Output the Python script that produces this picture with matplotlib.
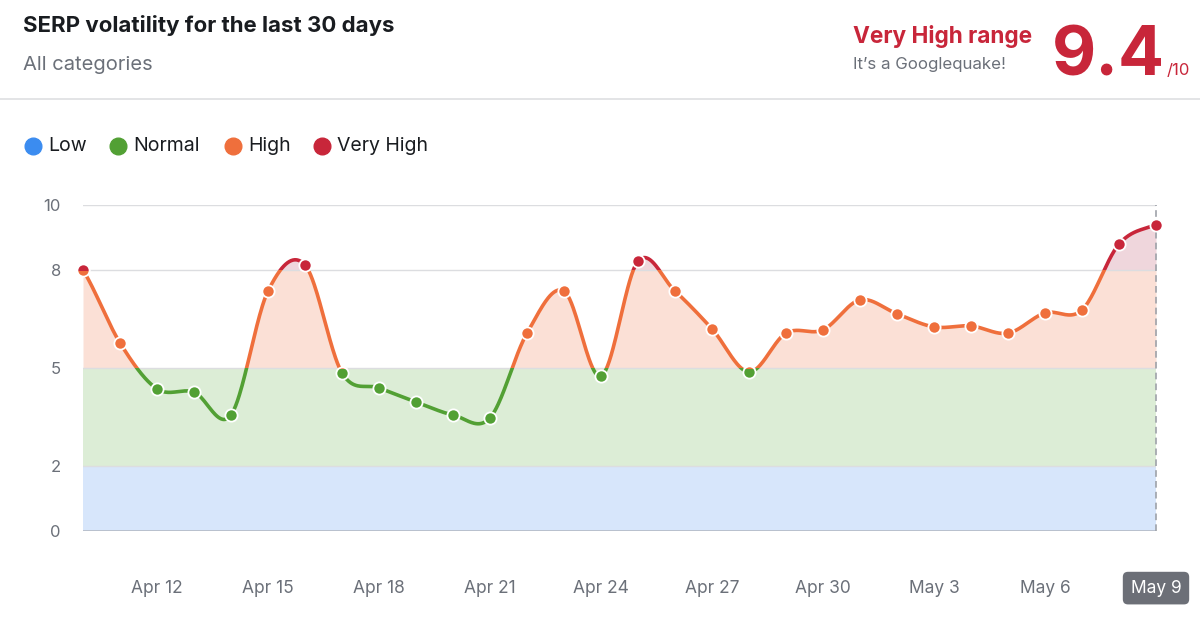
import numpy as np
import matplotlib
matplotlib.use("Agg")
import matplotlib.pyplot as plt
from matplotlib.patches import Rectangle

plt.rcParams['font.family'] = ['Inter', 'DejaVu Sans']

# ---- data ----
day_labels = ["Apr 10", "Apr 11", "Apr 12", "Apr 13", "Apr 14", "Apr 15", "Apr 16", "Apr 17",
              "Apr 18", "Apr 19", "Apr 20", "Apr 21", "Apr 22", "Apr 23", "Apr 24", "Apr 25",
              "Apr 26", "Apr 27", "Apr 28", "Apr 29", "Apr 30", "May 1", "May 2", "May 3",
              "May 4", "May 5", "May 6", "May 7", "May 8", "May 9"]
volatility = [8.0, 5.77, 4.36, 4.26, 3.56, 7.36, 8.16, 4.85, 4.39, 3.96, 3.56, 3.47, 6.07, 7.36,
              4.75, 8.28, 7.36, 6.2, 4.88, 6.07, 6.17, 7.09, 6.66, 6.26, 6.29, 6.07, 6.69, 6.78,
              8.8, 9.4]
tick_labels = ["Apr 12", "Apr 15", "Apr 18", "Apr 21", "Apr 24", "Apr 27", "Apr 30",
               "May 3", "May 6", "May 9"]
y_ticks = [0, 2, 5, 8, 10]
zone_names = ["Low", "Normal", "High", "Very High"]
zone_bounds = [0, 2, 5, 8, 10]

c_blue, c_green, c_orange, c_red = "#3b8cf0", "#52a034", "#ef6f3c", "#c8263a"
f_blue, f_green, f_orange, f_red = "#d7e6fb", "#dcedd6", "#fbe0d6", "#efd6dc"
zone_colors = [c_blue, c_green, c_orange, c_red]
txt_dark = "#191c20"
txt_gray = "#6b7079"

# ---- spline (Catmull-Rom) ----
x = np.arange(len(volatility), dtype=float)
y = np.array(volatility, dtype=float)
n = len(y)
m = np.zeros(n)
m[1:-1] = (y[2:] - y[:-2]) / 2.0
m[0] = (y[1] - y[0]) * 0.8
m[-1] = (y[-1] - y[-2]) * 0.8
xs, ys = [], []
for i in range(n - 1):
    t = np.linspace(0, 1, 40, endpoint=(i == n - 2))
    h00 = 2 * t**3 - 3 * t**2 + 1
    h10 = t**3 - 2 * t**2 + t
    h01 = -2 * t**3 + 3 * t**2
    h11 = t**3 - t**2
    xs.append(x[i] + t)
    ys.append(h00 * y[i] + h10 * m[i] + h01 * y[i + 1] + h11 * m[i + 1])
xd = np.concatenate(xs)
yd = np.concatenate(ys)

W, H = 1200, 624
fig = plt.figure(figsize=(W / 100, H / 100), dpi=100)
fig.patch.set_facecolor("white")

ax = fig.add_axes([83 / W, 1 - 531 / H, (1156 - 83) / W, (531 - 205) / H])
ax.set_xlim(0, n - 1)
ax.set_ylim(0, 10)
for s in ax.spines.values():
    s.set_visible(False)

# bands
ax.axhspan(zone_bounds[0], zone_bounds[1], color=f_blue, lw=0, zorder=0)
ax.axhspan(zone_bounds[1], zone_bounds[2], color=f_green, lw=0, zorder=0)
ax.fill_between(xd, 5, np.clip(yd, 5, 8), color=f_orange, lw=0, zorder=0)
ax.fill_between(xd, 8, np.clip(yd, 8, None), color=f_red, lw=0, zorder=0)

# grid
for v in [2, 5, 8, 10]:
    ax.axhline(v, color="#dcdde0", lw=1.0, zorder=1)
ax.axhline(0, color="#b4bac6", lw=1.2, zorder=1)
ax.axvline(n - 1, color="#9ea2a9", lw=1.2, ls=(0, (4, 2.5)), zorder=2, clip_on=False)

# zone-colored line + markers via clipping
for lo, hi, col in [(-1, 2, c_blue), (2, 5, c_green), (5, 8, c_orange), (8, 12, c_red)]:
    rect = Rectangle((-2, lo), n + 4, hi - lo, transform=ax.transData, fill=False, visible=False)
    ax.add_patch(rect)
    ln, = ax.plot(xd, yd, color=col, lw=2.6, solid_capstyle="round", zorder=3)
    ln.set_clip_path(rect)
    mk, = ax.plot(x, y, ls="none", marker="o", ms=8.8, mfc=col, mec="white", mew=1.3, zorder=4)
    mk.set_clip_path(rect)

ax.set_yticks(y_ticks)
ax.set_yticklabels([str(v) for v in y_ticks], fontsize=12, color=txt_gray)
tick_pos = [day_labels.index(lbl) for lbl in tick_labels]
ax.set_xticks(tick_pos)
ax.set_xticklabels(tick_labels, fontsize=12.5, color=txt_gray)
ax.tick_params(axis="both", length=0)
ax.tick_params(axis="y", pad=16)
ax.tick_params(axis="x", pad=35)
last = ax.get_xticklabels()[-1]
last.set_color("white")
last.set_bbox(dict(boxstyle="round,pad=0.45,rounding_size=0.3", fc="#6c6f77", ec="none"))

# header
fig.text(23 / W, 1 - 26 / H, "SERP volatility for the last 30 days", fontsize=16, fontweight="bold",
         color=txt_dark, va="center", ha="left")
fig.text(23 / W, 1 - 65 / H, "All categories", fontsize=14.5, color=txt_gray, va="center", ha="left")
fig.add_artist(plt.Line2D([0, 1], [1 - 99 / H, 1 - 99 / H], color="#dedfe2", lw=1.2,
                          transform=fig.transFigure))

fig.text(853 / W, 1 - 37 / H, "Very High range", fontsize=16.3, fontweight="bold", color=c_red,
         va="center", ha="left")
fig.text(853 / W, 1 - 65 / H, "It\u2019s a Googlequake!", fontsize=12.2, color=txt_gray,
         va="center", ha="left")
fig.text(1165 / W, 1 - 75 / H, "9.4", fontsize=49, fontweight="bold", color=c_red,
         va="baseline", ha="right")
fig.text(1167 / W, 1 - 75 / H, "/10", fontsize=12, color=c_red, va="baseline", ha="left")

# legend
leg_x = [33, 118, 233, 322]
for px, name, col in zip(leg_x, zone_names, zone_colors):
    fig.add_artist(plt.Line2D([px / W], [1 - 146 / H], marker="o", ms=12, color=col, ls="none",
                              transform=fig.transFigure))
    fig.text((px + 15) / W, 1 - 146 / H, name, fontsize=14, color=txt_dark, va="center", ha="left")

fig.savefig("out.png", dpi=100, facecolor="white")
